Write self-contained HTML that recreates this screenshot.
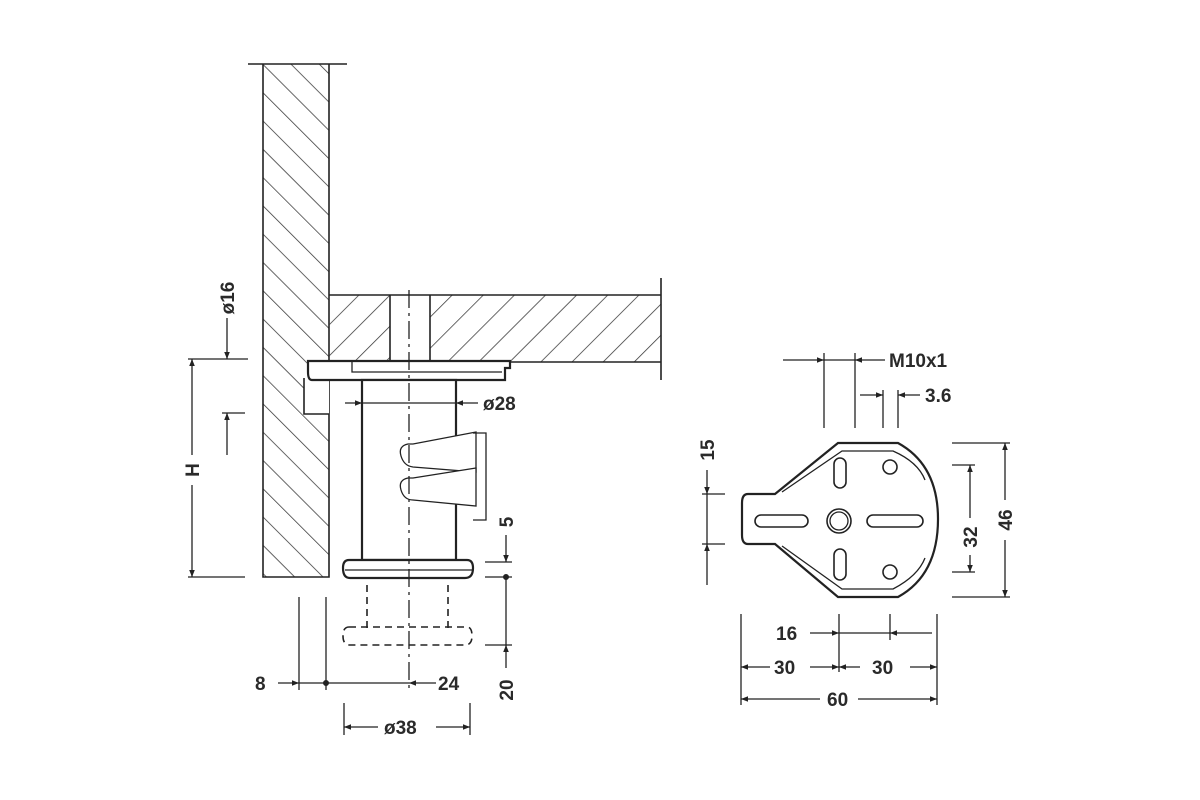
<!DOCTYPE html>
<html><head><meta charset="utf-8"><style>
html,body{margin:0;padding:0;background:#fff;}
svg{display:block}
text{font-family:"Liberation Sans",sans-serif;font-size:19px;font-weight:bold;fill:#2a2a2a;}
</style></head><body>
<svg width="1200" height="800" viewBox="0 0 1200 800" xmlns="http://www.w3.org/2000/svg">
<defs>
<pattern id="hw" patternUnits="userSpaceOnUse" width="20" height="20" patternTransform="rotate(-45)">
<line x1="0" y1="0" x2="0" y2="20" stroke="#333" stroke-width="1.5"/></pattern>
<pattern id="hs" patternUnits="userSpaceOnUse" width="22" height="22" patternTransform="rotate(45)">
<line x1="0" y1="0" x2="0" y2="22" stroke="#333" stroke-width="1.5"/></pattern>
<marker id="a" viewBox="0 0 10 10" refX="10" refY="5" markerWidth="10" markerHeight="7" orient="auto-start-reverse" markerUnits="userSpaceOnUse"><path d="M0,1 L10,5 L0,9 z" fill="#222"/></marker>
</defs>
<g stroke="#222" stroke-width="1.6" fill="none">
<!-- wall -->
<rect x="263" y="64" width="66" height="513" fill="url(#hw)" stroke="none"/>
<path d="M263,64 V577 H329 V64"/>
<line x1="248" y1="64" x2="347" y2="64"/>
<!-- shelf -->
<rect x="329" y="295" width="332" height="67" fill="url(#hs)" stroke="none"/>
<rect x="390" y="295" width="40" height="67" fill="#fff" stroke="none"/>
<path d="M329,295 H661 M329,362 H661 M390,295 V362 M430,295 V362"/>
<line x1="661" y1="278" x2="661" y2="380"/>
<!-- notch -->
<rect x="304" y="378" width="25" height="36" fill="#fff" stroke="none"/>
<path d="M304,378 V414 H329"/>
<!-- plate -->
<path d="M308,361 H510 V368 H505 V380 H312 Q308,380 308,372 Z" fill="#fff" stroke-width="2.2"/>
<path d="M352,362 V372 H502" stroke-width="1.3"/>
<!-- tube -->
<rect x="362" y="380" width="94" height="180" fill="#fff" stroke-width="2.2"/>
<!-- spring -->
<path d="M408,444 Q398,446 401,456 Q404,466 413,467 L476,472 V432 L413,444 Z" fill="#fff" stroke-width="1.3"/>
<path d="M408,478 Q398,480 401,490 Q404,500 413,500 L476,506 V468 L413,478 Z" fill="#fff" stroke-width="1.3"/>
<path d="M473,433 H486 V520 H473" stroke-width="1.3"/>
<!-- foot -->
<path d="M349,560 H467 Q473,560 473,568 Q473,578 465,578 H350 Q343,578 343,568 Q343,560 349,560 Z" fill="#fff" stroke-width="2.2"/>
<line x1="345" y1="570" x2="472" y2="570" stroke-width="1.3"/>
<!-- dashed -->
<g stroke-dasharray="7,5">
<path d="M367,585 V628 M448,585 V628"/>
<path d="M349,627 H467 Q472,627 472,636 Q472,645 465,645 H350 Q343,645 343,636 Q343,627 349,627 Z"/>
</g>
<!-- centre line -->
<line x1="409" y1="290" x2="409" y2="692" stroke-width="1.3" stroke-dasharray="18,5,3,5"/>
<!-- dims left -->
<g stroke-width="1.3">
<line x1="345" y1="403" x2="362" y2="403" marker-end="url(#a)"/>
<line x1="362" y1="403" x2="456" y2="403"/>
<line x1="478" y1="403" x2="456" y2="403" marker-end="url(#a)"/>
<line x1="188" y1="359" x2="248" y2="359"/>
<line x1="222" y1="413" x2="245" y2="413"/>
<line x1="227" y1="318" x2="227" y2="359" marker-end="url(#a)"/>
<line x1="227" y1="455" x2="227" y2="413" marker-end="url(#a)"/>
<line x1="192" y1="455" x2="192" y2="359" marker-end="url(#a)"/>
<line x1="192" y1="485" x2="192" y2="577" marker-end="url(#a)"/>
<line x1="188" y1="577" x2="245" y2="577"/>
<line x1="299" y1="597" x2="299" y2="690"/>
<line x1="326" y1="597" x2="326" y2="690"/>
<line x1="278" y1="683" x2="299" y2="683" marker-end="url(#a)"/>
<line x1="299" y1="683" x2="409" y2="683"/>
<line x1="436" y1="683" x2="409" y2="683" marker-end="url(#a)"/>
<line x1="344" y1="703" x2="344" y2="735"/>
<line x1="470" y1="703" x2="470" y2="735"/>
<line x1="378" y1="727" x2="344" y2="727" marker-end="url(#a)"/>
<line x1="436" y1="727" x2="470" y2="727" marker-end="url(#a)"/>
<line x1="485" y1="562" x2="512" y2="562"/>
<line x1="485" y1="577" x2="512" y2="577"/>
<line x1="485" y1="645" x2="512" y2="645"/>
<line x1="506" y1="535" x2="506" y2="562" marker-end="url(#a)"/>
<line x1="506" y1="577" x2="506" y2="645"/>
<line x1="506" y1="668" x2="506" y2="645" marker-end="url(#a)"/>
</g>
<circle cx="326" cy="683" r="2.2" fill="#222"/>
<circle cx="506" cy="577" r="2.2" fill="#222"/>
<!-- right plate -->
<path d="M775,494 L838,443 H898 Q938,465 938,519 Q938,575 898,597 H838 L775,544 H748 Q742,544 742,535 V503 Q742,494 748,494 Z" stroke-width="2.2"/>
<path d="M782,492 L842,451 H893 Q918,462 925,480 M925,558 Q918,576 893,589 H842 L782,546" stroke-width="1.3"/>
<circle cx="839" cy="521" r="12" stroke-width="1.6"/>
<circle cx="839" cy="521" r="9" stroke-width="1.3"/>
<rect x="755" y="515" width="53" height="12" rx="6"/>
<rect x="867" y="515" width="56" height="12" rx="6"/>
<rect x="834" y="458" width="12" height="30" rx="6"/>
<rect x="834" y="549" width="12" height="31" rx="6"/>
<circle cx="890" cy="467" r="7"/>
<circle cx="890" cy="572" r="7"/>
<g stroke-width="1.3">
<line x1="824" y1="353" x2="824" y2="428"/>
<line x1="855" y1="353" x2="855" y2="428"/>
<line x1="783" y1="360" x2="824" y2="360" marker-end="url(#a)"/>
<line x1="824" y1="360" x2="855" y2="360"/>
<line x1="885" y1="360" x2="855" y2="360" marker-end="url(#a)"/>
<line x1="883" y1="390" x2="883" y2="428"/>
<line x1="898" y1="390" x2="898" y2="428"/>
<line x1="860" y1="395" x2="883" y2="395" marker-end="url(#a)"/>
<line x1="920" y1="395" x2="898" y2="395" marker-end="url(#a)"/>
<line x1="702" y1="494" x2="725" y2="494"/>
<line x1="702" y1="544" x2="725" y2="544"/>
<line x1="707" y1="470" x2="707" y2="494" marker-end="url(#a)"/>
<line x1="707" y1="494" x2="707" y2="544"/>
<line x1="707" y1="585" x2="707" y2="544" marker-end="url(#a)"/>
<line x1="952" y1="443" x2="1010" y2="443"/>
<line x1="952" y1="597" x2="1010" y2="597"/>
<line x1="1005" y1="500" x2="1005" y2="443" marker-end="url(#a)"/>
<line x1="1005" y1="540" x2="1005" y2="597" marker-end="url(#a)"/>
<line x1="952" y1="465" x2="975" y2="465"/>
<line x1="952" y1="572" x2="975" y2="572"/>
<line x1="970" y1="518" x2="970" y2="465" marker-end="url(#a)"/>
<line x1="970" y1="555" x2="970" y2="572" marker-end="url(#a)"/>
<line x1="741" y1="614" x2="741" y2="705"/>
<line x1="839" y1="614" x2="839" y2="672"/>
<line x1="890" y1="614" x2="890" y2="640"/>
<line x1="937" y1="614" x2="937" y2="705"/>
<line x1="810" y1="633" x2="839" y2="633" marker-end="url(#a)"/>
<line x1="839" y1="633" x2="890" y2="633"/>
<line x1="932" y1="633" x2="890" y2="633" marker-end="url(#a)"/>
<line x1="770" y1="667" x2="741" y2="667" marker-end="url(#a)"/>
<line x1="810" y1="667" x2="839" y2="667" marker-end="url(#a)"/>
<line x1="860" y1="667" x2="839" y2="667" marker-end="url(#a)"/>
<line x1="910" y1="667" x2="937" y2="667" marker-end="url(#a)"/>
<line x1="820" y1="699" x2="741" y2="699" marker-end="url(#a)"/>
<line x1="858" y1="699" x2="937" y2="699" marker-end="url(#a)"/>
</g>
</g>
<text x="483" y="410">ø28</text>
<text transform="translate(234,298) rotate(-90)" text-anchor="middle">ø16</text>
<text transform="translate(199,470) rotate(-90)" text-anchor="middle">H</text>
<text x="255" y="690">8</text>
<text x="438" y="690">24</text>
<text x="384" y="734">ø38</text>
<text transform="translate(513,522) rotate(-90)" text-anchor="middle">5</text>
<text transform="translate(513,690) rotate(-90)" text-anchor="middle">20</text>
<text x="889" y="367">M10x1</text>
<text x="925" y="402">3.6</text>
<text transform="translate(714,450) rotate(-90)" text-anchor="middle">15</text>
<text transform="translate(977,537) rotate(-90)" text-anchor="middle">32</text>
<text transform="translate(1012,520) rotate(-90)" text-anchor="middle">46</text>
<text x="776" y="640">16</text>
<text x="774" y="674">30</text>
<text x="872" y="674">30</text>
<text x="827" y="706">60</text>
</svg>
</body></html>
